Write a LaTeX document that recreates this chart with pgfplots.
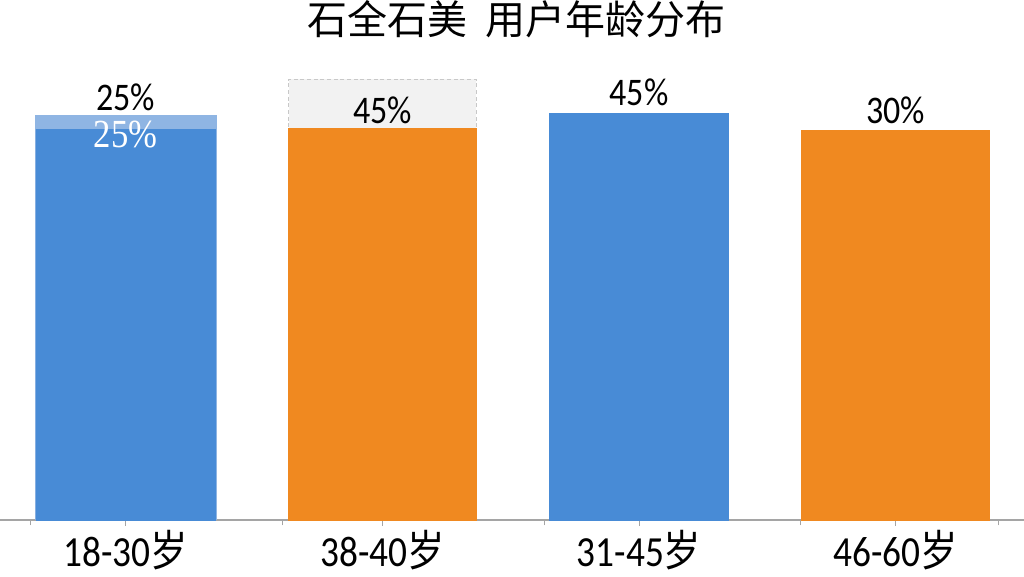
\documentclass[border=0pt]{standalone}
\usepackage{fontspec}
\setmainfont{Carlito}
\newfontfamily\cjk{Noto Sans CJK SC}
\newfontfamily\serifnum{Liberation Serif}
\usepackage{graphicx}
\usepackage{pgfplots}
\pgfplotsset{compat=1.18}
\usepackage{pgfplotstable}

\definecolor{barblue}{RGB}{72,139,214}
\definecolor{barorange}{RGB}{240,137,32}
\definecolor{bandblue}{RGB}{143,181,227}
\definecolor{boxgray}{RGB}{242,242,242}
\definecolor{boxline}{RGB}{200,200,200}
\definecolor{axisgray}{RGB}{165,165,165}

\newcommand{\tall}[1]{\scalebox{1}[1.15]{#1}}
\newcommand{\whitelabel}[1]{{\serifnum\fontsize{26}{28}\selectfont\tall{#1\%}}}

% drawn bar heights (1 unit = 10 px of the picture)
\pgfplotstableread{
x h
0 39.1
2 40.7
}\bluebars
\pgfplotstableread{
x h
1 39.1
3 38.9
}\orangebars
% label baselines and printed values
\pgfplotstableread{
x y lab
0 41.0 25
1 39.7 45
2 41.5 45
3 39.7 30
}\labels

\begin{document}
\begin{tikzpicture}
\useasboundingbox (0,-42pt) rectangle (768pt,390pt);
\begin{axis}[
  at={(0,0)}, anchor=south west,
  scale only axis,
  width=768pt, height=345pt,
  xmin=-0.49, xmax=3.5,
  ymin=0, ymax=46,
  axis x line*=bottom,
  axis y line=none,
  x axis line style={axisgray, line width=0.8pt, -},
  xtick={0,1,2,3},
  xticklabels={\tall{18-30{\cjk 岁}}, \tall{38-40{\cjk 岁}}, \tall{31-45{\cjk 岁}}, \tall{46-60{\cjk 岁}}},
  minor xtick={-0.37,0.61,1.63,2.63,3.4},
  tick align=outside,
  major tick length=4.5pt,
  minor tick length=4pt,
  tick style={axisgray, line width=0.8pt},
  xticklabel style={font=\fontsize{28}{30}\selectfont, inner sep=0pt, anchor=north, yshift=-3pt},
  title={\cjk 石全石美\hspace{0.45em}用户年龄分布},
  title style={font=\fontsize{30}{32}\selectfont, at={(0.5,1)}, anchor=base, yshift=13pt, xshift=3pt},
  clip=false,
]
% light band on the first bar, grey box on the second
\addplot[ybar, bar width=0.71, bar shift=0pt, fill=bandblue, draw=none]
  coordinates {(0,40.5)};
\addplot[ybar, bar width=0.73, bar shift=0pt, fill=boxgray, draw=boxline, densely dashed, line width=0.6pt]
  coordinates {(1,44.1)};
% main bars
\addplot[ybar, bar width=0.70, bar shift=0pt, fill=barblue, draw=barblue, line width=0.6pt]
  table[x=x, y=h] {\bluebars};
\addplot[ybar, bar width=0.73, bar shift=0pt, fill=barorange, draw=barorange, line width=0.8pt]
  table[x=x, y=h] {\orangebars};
% value labels
\addplot[draw=none, mark=none, point meta=explicit symbolic,
  nodes near coords={\tall{\pgfplotspointmeta\%}},
  nodes near coords style={font=\fontsize{25.5}{27}\selectfont, inner sep=0pt, anchor=base, black}]
  table[x=x, y=y, meta=lab] {\labels};
\addplot[draw=none, mark=none, point meta=explicit symbolic,
  nodes near coords={\whitelabel{\pgfplotspointmeta}},
  nodes near coords style={inner sep=0pt, anchor=base, text=white}]
  coordinates {(0,37.3) [25]};
\end{axis}
\end{tikzpicture}
\end{document}
